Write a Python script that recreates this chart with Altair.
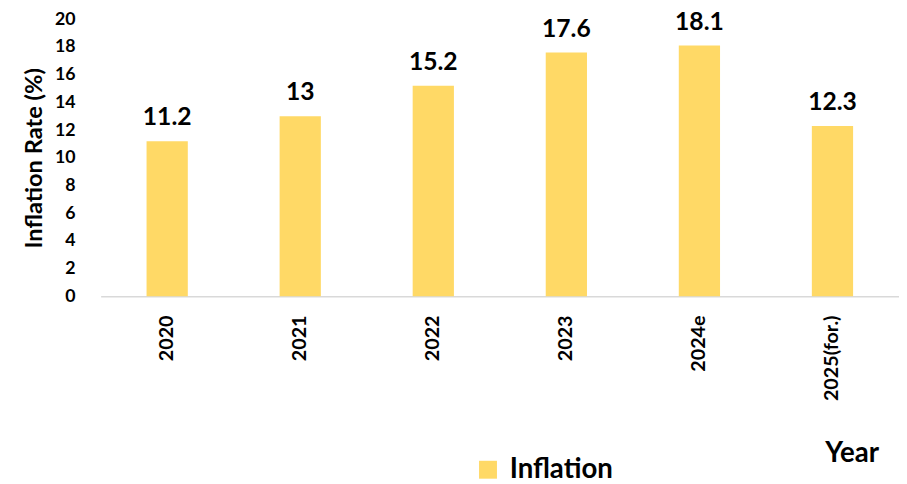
import altair as alt
import pandas as pd

years = ["2020", "2021", "2022", "2023", "2024e", "2025(for.)"]
inflation = [11.2, 13, 15.2, 17.6, 18.1, 12.3]
series = ["Inflation"] * len(years)

df = pd.DataFrame({"Year": years, "Inflation": inflation, "Series": series})

base = alt.Chart(df).encode(
    x=alt.X("Year:N", sort=years, scale=alt.Scale(paddingInner=0.69, paddingOuter=0.345),
            axis=alt.Axis(title="Year", labelAngle=-90, labelFont="Lato",
                          labelFontWeight="bold", labelFontSize=20, labelColor="black",
                          labelPadding=19, labelAlign="right", labelBaseline="middle",
                          ticks=False, domainColor="#d9d9d9", domainWidth=1.5,
                          titleFont="Lato", titleFontSize=28, titleFontWeight="bold",
                          titleColor="black", titleX=762, titleY=160, titleAlign="center",
                          titleBaseline="middle")),
    y=alt.Y("Inflation:Q", scale=alt.Scale(domain=[0, 20]),
            axis=alt.Axis(title="Inflation Rate (%)", values=list(range(0, 21, 2)),
                          labelOverlap=False,
                          grid=False, domain=False, ticks=False, labelPadding=26,
                          labelFont="Lato", labelFontWeight="bold", labelFontSize=18,
                          labelColor="black", titleFont="Lato", titleFontSize=24,
                          titleFontWeight="bold", titleColor="black", titlePadding=8)),
)

bars = base.mark_bar(color="#FFD966").encode(
    color=alt.Color("Series:N", scale=alt.Scale(range=["#FFD966"]),
                    legend=alt.Legend(title=None, orient="none", legendX=379, legendY=443,
                                      symbolType="square", symbolSize=330,
                                      symbolStrokeWidth=0, labelFont="Lato",
                                      labelFontSize=28, labelFontWeight="bold",
                                      labelColor="black", labelOffset=8)),
)

labels = base.mark_text(baseline="alphabetic", dy=-16, font="Lato", fontSize=25,
                        fontWeight="bold", color="black").encode(
    text=alt.Text("Inflation:Q"),
)

chart = (bars + labels).properties(
    width=810, height=281,
    autosize=alt.AutoSizeParams(type="none"),
    padding={"left": 94, "top": 8, "right": 0, "bottom": 187},
).configure_view(stroke=None)

chart.save("out.html", embed_options={"renderer": "svg", "actions": False})
